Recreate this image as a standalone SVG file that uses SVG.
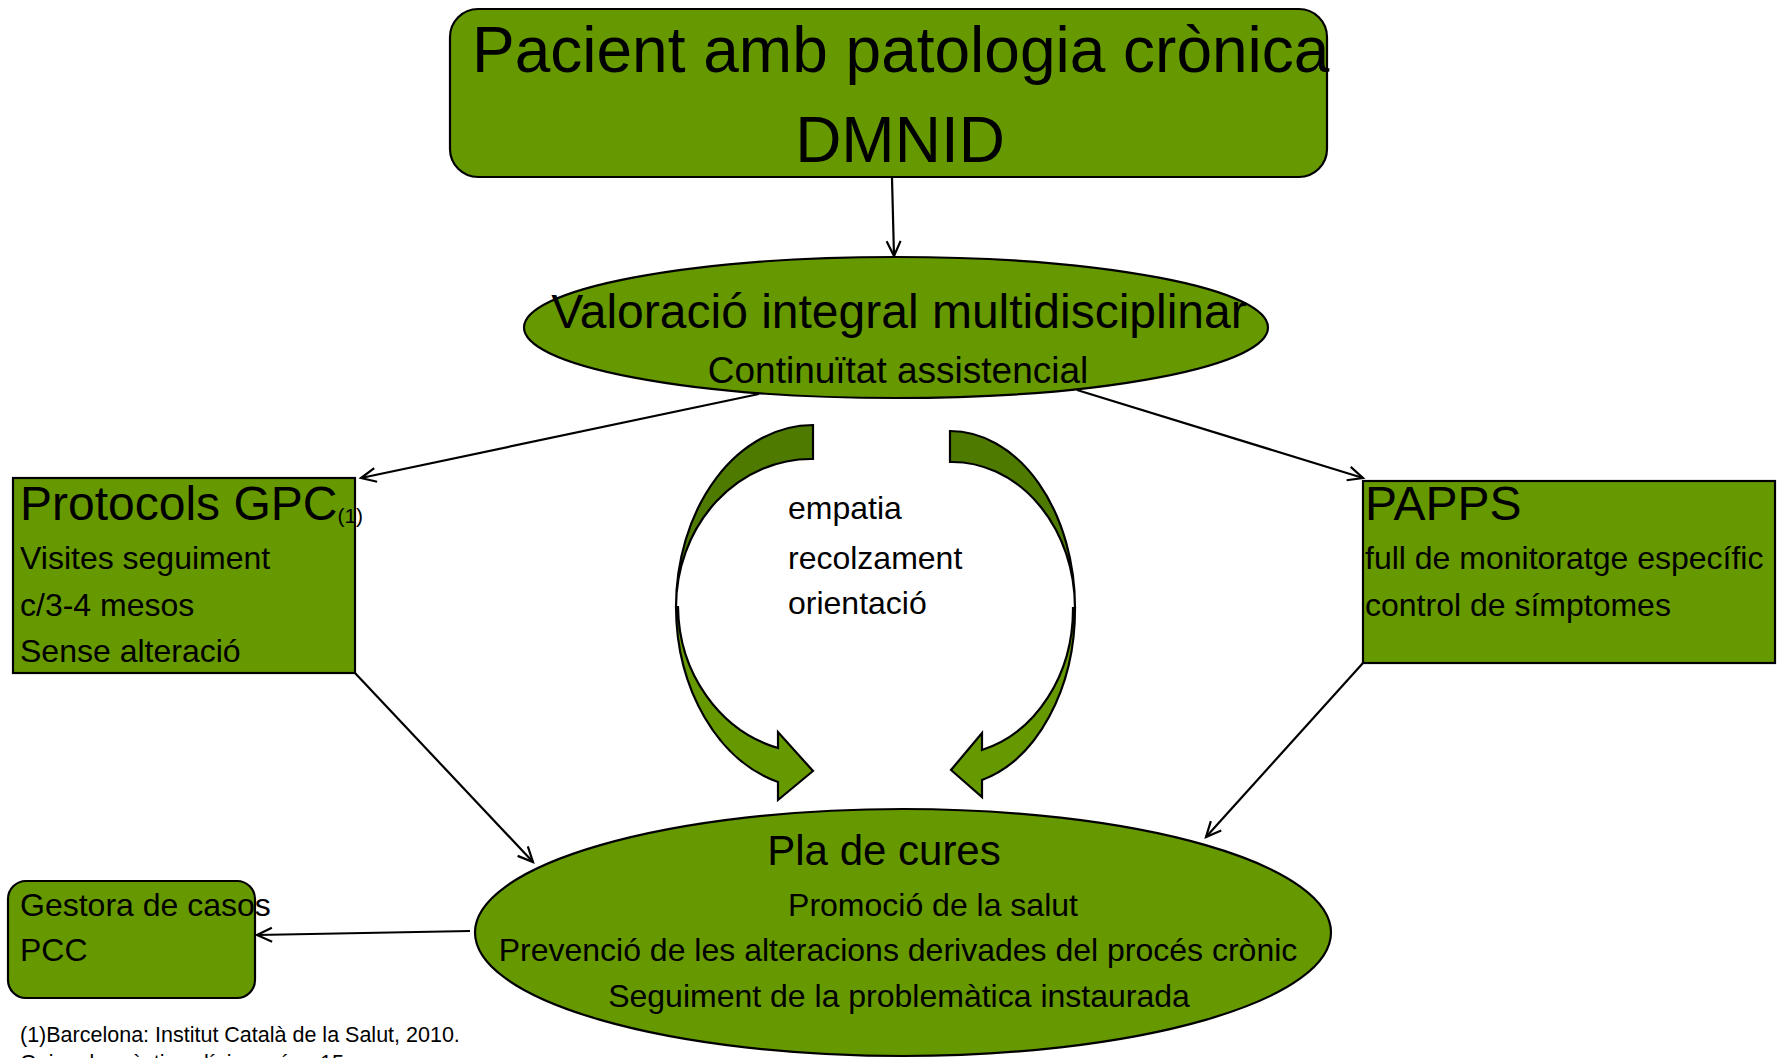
<svg xmlns="http://www.w3.org/2000/svg" width="1781" height="1058" viewBox="0 0 1781 1058">
<style>
.n{fill:#669900;stroke:#000;stroke-width:2.2}
.d{fill:#4f7a00;stroke:#000;stroke-width:2.2}
.t{font-family:"Liberation Sans",Arial,sans-serif;fill:#000}
.s{font-size:32px}
.c{stroke:#000;stroke-width:2.2;fill:none;marker-end:url(#ah)}
</style>
<defs>
<marker id="ah" markerUnits="userSpaceOnUse" markerWidth="20" markerHeight="18" refX="16" refY="8" orient="auto">
<path d="M1,1 L16,8 L1,15" fill="none" stroke="#000" stroke-width="2.2"/>
</marker>
</defs>
<rect width="1781" height="1058" fill="#fff"/>
<g id="connectors">
<line class="c" x1="892" y1="178" x2="894" y2="256"/>
<line class="c" x1="759" y1="394" x2="361" y2="478"/>
<line class="c" x1="1077" y1="390" x2="1363" y2="478"/>
<line class="c" x1="355" y1="673" x2="533" y2="862"/>
<line class="c" x1="1363" y1="663" x2="1206" y2="837"/>
<line class="c" x1="470" y1="931" x2="257" y2="935"/>
</g>
<g id="title">
<rect class="n" x="450" y="9" width="877" height="168" rx="28"/>
<text class="t" x="472" y="72" font-size="64">Pacient amb patologia crònica</text>
<text class="t" x="900" y="162" font-size="64" text-anchor="middle">DMNID</text>
</g>
<g id="valoracio">
<ellipse class="n" cx="896" cy="327.5" rx="372" ry="70.5"/>
<text class="t" x="899" y="328" font-size="48" text-anchor="middle">Valoració integral multidisciplinar</text>
<text class="t" x="898" y="383" font-size="37" text-anchor="middle">Continuïtat assistencial</text>
</g>
<g id="protocols">
<rect class="n" x="13" y="478" width="342" height="195"/>
<text class="t" x="20" y="520" font-size="48">Protocols GPC<tspan font-size="21" dy="3">(1)</tspan></text>
<text class="t s" x="20" y="569">Visites seguiment</text>
<text class="t s" x="20" y="616">c/3-4 mesos</text>
<text class="t s" x="20" y="662">Sense alteració</text>
</g>
<g id="papps">
<rect class="n" x="1363" y="481" width="412" height="182"/>
<text class="t" x="1365" y="520" font-size="48">PAPPS</text>
<text class="t s" x="1365" y="569">full de monitoratge específic</text>
<text class="t s" x="1365" y="616">control de símptomes</text>
</g>
<g id="cycle-left">
<path class="d" d="M813,425 A137,182 0 0 0 676,607 A135,148 0 0 1 813,459 Z"/>
<path class="n" d="M676,607 A137,182 0 0 0 778,782 L778,800 L813,771 L778,732 L778,748 A135,148 0 0 1 678,607 Z"/>
</g>
<g id="cycle-right">
<path class="d" d="M950,431 A125,177 0 0 1 1075,608 A123,146 0 0 0 950,462 Z"/>
<path class="n" d="M1075,608 A125,177 0 0 1 982,780 L982,797 L951,770 L982,733 L982,750 A123,146 0 0 0 1073,608 Z"/>
</g>
<g id="cycle-text">
<text class="t s" x="788" y="519">empatia</text>
<text class="t s" x="788" y="569">recolzament</text>
<text class="t s" x="788" y="614">orientació</text>
</g>
<g id="pla">
<ellipse class="n" cx="903" cy="932.5" rx="428" ry="123.5"/>
<text class="t" x="884" y="865" font-size="42" text-anchor="middle">Pla de cures</text>
<text class="t s" x="933" y="916" text-anchor="middle">Promoció de la salut</text>
<text class="t s" x="898" y="961" text-anchor="middle">Prevenció de les alteracions derivades del procés crònic</text>
<text class="t s" x="899" y="1007" text-anchor="middle">Seguiment de la problemàtica instaurada</text>
</g>
<g id="gestora">
<rect class="n" x="8" y="881" width="247" height="117" rx="18"/>
<text class="t s" x="20" y="916">Gestora de casos</text>
<text class="t s" x="20" y="961">PCC</text>
</g>
<g id="footnote">
<text class="t" x="20" y="1042" font-size="21.5">(1)Barcelona: Institut Català de la Salut, 2010.</text>
<text class="t" x="20" y="1070" font-size="21.5">Guies de pràctica clínica, núm. 15</text>
</g>
</svg>
